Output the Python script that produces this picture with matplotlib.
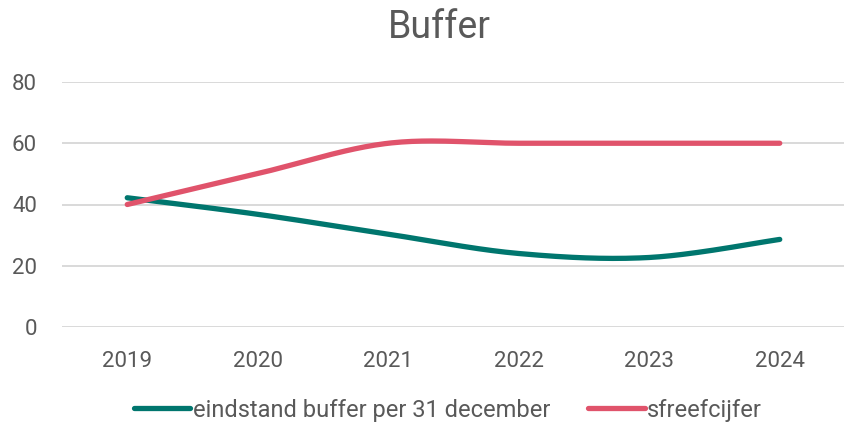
import numpy as np
import matplotlib
matplotlib.use("Agg")
import matplotlib.pyplot as plt
from matplotlib.lines import Line2D

years = ["2019", "2020", "2021", "2022", "2023", "2024"]
buffer_vals = [42.2, 36.8, 30.3, 24.0, 22.7, 28.6]
target_vals = [40.0, 50.1, 60.0, 60.0, 60.0, 60.0]
series_names = ["eindstand buffer per 31 december", "sfreefcijfer"]
colors = ["#00766E", "#E0536B"]
yticks = [0, 20, 40, 60, 80]

plt.rcParams['font.family'] = ['Roboto', 'DejaVu Sans']
text_color = "#595959"


def smooth(xs, ys, n=40):
    xs = np.asarray(xs, float)
    ys = np.asarray(ys, float)
    P = np.column_stack([xs, ys])
    out = []
    for i in range(len(P) - 1):
        p0 = P[i - 1] if i > 0 else P[i]
        p1 = P[i]
        p2 = P[i + 1]
        p3 = P[i + 2] if i + 2 < len(P) else P[i + 1]
        c1 = p1 + (p2 - p0) / 6.0
        c2 = p2 - (p3 - p1) / 6.0
        t = np.linspace(0, 1, n)[:, None]
        seg = ((1 - t) ** 3) * p1 + 3 * ((1 - t) ** 2) * t * c1 + 3 * (1 - t) * t ** 2 * c2 + t ** 3 * p2
        if i > 0:
            seg = seg[1:]
        out.append(seg)
    out = np.vstack(out)
    return out[:, 0], out[:, 1]


fig = plt.figure(figsize=(8.45, 4.25), dpi=100)
ax = fig.add_axes([62 / 845, 1 - 327 / 425, 1 - 62 / 845, (327 - 82) / 425])

x = np.arange(len(years))
for vals, c in zip([buffer_vals, target_vals], colors):
    sx, sy = smooth(x, vals)
    ax.plot(sx, sy, color=c, lw=3.8, solid_capstyle='round', solid_joinstyle='round', zorder=3)

ax.set_xlim(-0.5, len(years) - 0.5)
ax.set_ylim(0, 80)
ax.set_yticks(yticks)
ax.set_xticks(x)
ax.set_xticklabels(years)
ax.yaxis.grid(True, color="#D9D9D9", lw=1.4)
ax.set_axisbelow(True)
for s in ax.spines.values():
    s.set_visible(False)
ax.tick_params(axis='both', length=0, labelsize=16, labelcolor=text_color)
ax.tick_params(axis='y', pad=18)
ax.tick_params(axis='x', pad=17)

fig.text(0.520, 1 - 27 / 425, "Buffer", ha='center', va='center', fontsize=27, color=text_color)

handles = [Line2D([0], [0], color=c, lw=3.8, solid_capstyle='round') for c in colors]
fig.legend(handles, series_names, loc='center', bbox_to_anchor=(0.53, 1 - 410 / 425), ncol=2,
           frameon=False, fontsize=17, labelcolor=text_color, handlelength=2.4,
           handletextpad=0.1, columnspacing=1.6)

fig.savefig("out.png", dpi=100)
